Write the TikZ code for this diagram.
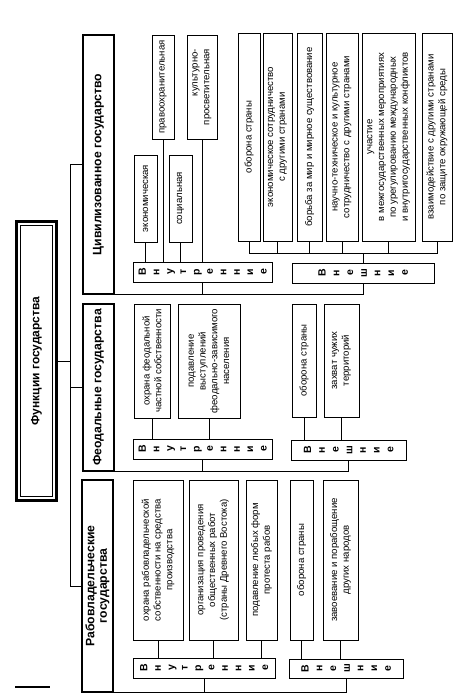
\documentclass[tikz,border=0pt]{standalone}
\usepackage{fontspec}
\setmainfont{Liberation Sans}
\tikzset{
  fbox/.style={draw, line width=0.9pt, inner sep=0pt, outer sep=0pt},
  sbox/.style={draw, line width=1.6pt, inner sep=0pt, outer sep=0pt},
  ftext/.style={rotate=90, align=center, inner sep=0pt, font=\fontsize{9.6}{11.8}\selectfont},
  ftextr/.style={rotate=90, align=right, inner sep=0pt, font=\fontsize{9.6}{11.8}\selectfont},
  stext/.style={rotate=90, align=center, inner sep=0pt, font=\bfseries\fontsize{12.2}{12.5}\selectfont},
  lt/.style={rotate=90, inner sep=0pt, text height=7.5pt, text depth=0pt, font=\bfseries\fontsize{10.5}{10.5}\selectfont},
  conn/.style={line width=0.8pt},
}
% name, box style, text style, x1, y1, x2, y2, text
\newcommand\bx[8]{%
  \node[#2, minimum width={(#6-#4)*1pt}, minimum height={(#7-#5)*1pt}] (#1) at ({(#4+#6)/2},{(#5+#7)/2}) {};
  \node[#3] (#1t) at (#1.center) {#8};}
\newcommand\vnut[1]{%
  \foreach \l [count=\i] in {В,н,у,т,р,е,н,н,и,е}
    \path ([xshift={(\i-5.5)*13.4pt}]#1.center) node[lt] (#1l\i) {\l};}
\newcommand\vnesh[1]{%
  \foreach \l [count=\i] in {В,н,е,ш,н,и,е}
    \path ([xshift={(\i-4)*13.7pt}]#1.center) node[lt] (#1l\i) {\l};}
\begin{document}
\begin{tikzpicture}[x=1pt,y=-1pt]
\useasboundingbox (0,0) rectangle (469,697);

% title
\node[draw, line width=2.6pt, minimum width=40pt, minimum height=279pt, inner sep=0pt, outer sep=0pt] (title) at (36.5,361) {};
\node[draw, line width=1pt, minimum width=32pt, minimum height=271pt, inner sep=0pt, outer sep=0pt] (titlein) at (36.5,361) {};
\node[stext, font=\bfseries\fontsize{12}{12.5}\selectfont] (titlet) at (title.center) {Функции государства};

% state boxes
\bx{civ}{sbox}{stext}{83}{35}{114}{294}{Цивилизованное государство}
\bx{feud}{sbox}{stext}{83}{304}{114}{471}{Феодальные государства}
\bx{slave}{sbox}{stext}{82}{480}{113}{692}{Рабовладельческие\\государства}

% civilized: internal
\bx{ci1}{fbox}{ftext}{134}{155}{157}{242}{экономическая}
\bx{ci2}{fbox}{ftext}{152}{35}{174}{139}{правоохранительная}
\bx{ci3}{fbox}{ftext}{169}{155}{192}{242}{социальная}
\bx{ci4}{fbox}{ftextr}{187}{35}{217}{139}{культурно-\\просветительная}
\bx{civint}{fbox}{ftext}{133}{262}{272}{282}{}
\vnut{civint}
% civilized: external
\bx{co1}{fbox}{ftext}{238}{33}{260}{241}{оборона страны}
\bx{co2}{fbox}{ftext}{263}{33}{292}{241}{экономическое сотрудничество\\с другими странами}
\bx{co3}{fbox}{ftext}{297}{33}{322}{241}{борьба за мир и мирное существование}
\bx{co4}{fbox}{ftext}{326}{33}{358}{241}{научно-техническое и культурное\\сотрудничество с другими странами}
\bx{co5}{fbox}{ftext}{362}{33}{415}{241}{участие\\в межгосударственных мероприятиях\\по урегулированию международных\\и внутригосударственных конфликтов}
\bx{co6}{fbox}{ftext}{422}{33}{452}{241}{взаимодействие с другими странами\\по защите окружающей среды}
\bx{civext}{fbox}{ftext}{292}{263}{434}{283}{}
\vnesh{civext}

% feudal
\bx{fi1}{fbox}{ftext}{134}{304}{170}{418}{охрана феодальной\\частной собственности}
\bx{fi2}{fbox}{ftext}{178}{304}{240}{418}{подавление\\выступлений\\феодально-зависимого\\населения}
\bx{feudint}{fbox}{ftext}{133}{439}{272}{459}{}
\vnut{feudint}
\bx{fo1}{fbox}{ftext}{292}{304}{316}{417}{оборона страны}
\bx{fo2}{fbox}{ftext}{324}{304}{359}{417}{захват чужих\\территорий}
\bx{feudext}{fbox}{ftext}{291}{440}{406}{460}{}
\vnesh{feudext}

% slave-owning
\bx{si1}{fbox}{ftext}{133}{480}{183}{640}{охрана рабовладельческой\\собственности на средства\\производства}
\bx{si2}{fbox}{ftext}{189}{480}{238}{640}{организация проведения\\общественных работ\\(страны Древнего Востока)}
\bx{si3}{fbox}{ftext}{246}{480}{277}{640}{подавление любых форм\\протеста рабов}
\bx{slaveint}{fbox}{ftext}{133}{658}{275}{678}{}
\vnut{slaveint}
\bx{so1}{fbox}{ftext}{290}{480}{313}{640}{оборона страны}
\bx{so2}{fbox}{ftext}{323}{480}{358}{640}{завоевание и порабощение\\других народов}
\bx{slaveext}{fbox}{ftext}{289}{659}{403}{678}{}
\vnesh{slaveext}

% spine
\coordinate (spine) at (70,0);
\draw[conn] (title.east) -- (title.east -| spine);
\draw[conn] (civ.west) -- (civ.west -| spine) -- (slave.west -| spine) -- (slave.west);
\draw[conn] (feud.west) -- (feud.west -| spine);

% civilized connectors
\foreach \n in {ci1,ci2,ci3,ci4} \draw[conn] (\n.south) -- (\n.south |- civint.north);
\coordinate (cbus) at (0,253);
\draw[conn] (co1.south) -- (co1.south |- cbus) -- (co6.south |- cbus) -- (co6.south);
\foreach \n in {co2,co3,co4,co5} \draw[conn] (\n.south) -- (\n.south |- cbus);
\draw[conn] (civext.north) -- (civext.north |- cbus);
\draw[conn] (civ.south east) -- (civext.south |- civ.south) -- (civext.south);
\draw[conn] (civint.south) -- (civint.south |- civ.south);

% feudal connectors
\foreach \n in {fi1,fi2} \draw[conn] (\n.south) -- (\n.south |- feudint.north);
\foreach \n in {fo1,fo2} \draw[conn] (\n.south) -- (\n.south |- feudext.north);
\draw[conn] (feud.south east) -- (feudext.south |- feud.south) -- (feudext.south);
\draw[conn] (feudint.south) -- (feudint.south |- feud.south);

% slave connectors
\foreach \n in {si1,si2,si3} \draw[conn] (\n.south) -- (\n.south |- slaveint.north);
\foreach \n in {so1,so2} \draw[conn] (\n.south) -- (\n.south |- slaveext.north);
\draw[conn] (slave.south east) -- (slaveext.south |- slave.south) -- (slaveext.south);
\draw[conn] (slaveint.south) -- (slaveint.south |- slave.south);

% short stroke at lower left
\draw[line width=1.6pt] (15,687) -- (50,687);
\end{tikzpicture}
\end{document}
